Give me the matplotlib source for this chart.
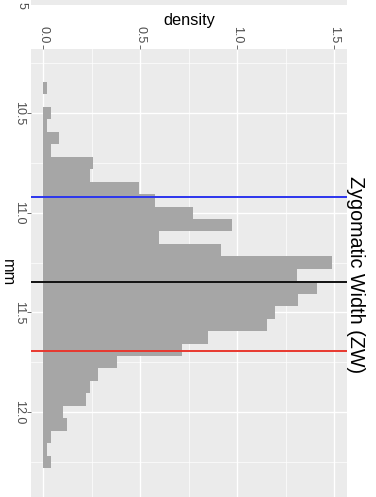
import matplotlib
matplotlib.use("Agg")
import matplotlib.pyplot as plt
from matplotlib.patches import Rectangle

plt.rcParams['font.family'] = ['Liberation Sans', 'DejaVu Sans']

# histogram bins (centres, mm) and densities
bin_centers = [10.375, 10.4375, 10.5, 10.5625, 10.625, 10.6875, 10.75, 10.8125,
               10.875, 10.9375, 11.0, 11.0625, 11.125, 11.1875, 11.25, 11.3125,
               11.375, 11.4375, 11.5, 11.5625, 11.625, 11.6875, 11.75, 11.8125,
               11.875, 11.9375, 12.0, 12.0625, 12.125, 12.1875, 12.25]
densities = [0.021, 0.0, 0.042, 0.021, 0.081, 0.042, 0.258, 0.239,
             0.495, 0.576, 0.773, 0.974, 0.598, 0.914, 1.487, 1.306,
             1.409, 1.315, 1.194, 1.152, 0.851, 0.713, 0.378, 0.284,
             0.241, 0.218, 0.103, 0.121, 0.042, 0.021, 0.042]
bin_width = 0.0625

# reference lines (mm)
line_values = [10.921, 11.345, 11.696]
line_colors = ['#2b35ee', '#111111', '#e8382e']

density_ticks = [0.0, 0.5, 1.0, 1.5]
density_labels = ['0.0', '0.5', '1.0', '1.5']
mm_ticks = [10.5, 11.0, 11.5, 12.0]
mm_labels = ['10.5', '11.0', '11.5', '12.0']

W, H = 376, 497
fig = plt.figure(figsize=(W / 100, H / 100), dpi=100)
fig.patch.set_facecolor('white')

# fragment of the neighbouring panel at the very top
fig.patches.append(Rectangle((31 / W, 1 - 5 / H), 316 / W, 5 / H,
                             transform=fig.transFigure, facecolor='#EBEBEB',
                             edgecolor='none'))
fig.text(22 / W, 1 - 8.5 / H, '5', rotation=-90, ha='center', va='bottom',
         fontsize=9, color='#4D4D4D')

ax = fig.add_axes([31 / W, 0.0, 316 / W, (497 - 49.3) / H])
ax.set_facecolor('#EBEBEB')

ax.barh(bin_centers, densities, height=bin_width, color='#a6a6a6',
        edgecolor='none', zorder=2)
for v, c in zip(line_values, line_colors):
    ax.axhline(v, color=c, lw=1.4, zorder=3)

ax.set_xlim(-0.0634, 1.565)
ax.set_ylim(12.426, 10.18)

ax.set_xticks(density_ticks)
ax.set_xticklabels(density_labels)
ax.set_xticks([0.25, 0.75, 1.25], minor=True)
ax.set_yticks(mm_ticks)
ax.set_yticklabels(mm_labels)
ax.set_yticks([10.25, 10.75, 11.25, 11.75, 12.25], minor=True)

ax.xaxis.tick_top()
ax.grid(which='major', color='white', lw=1.0, zorder=0)
ax.grid(which='minor', color='white', lw=0.5, zorder=0)
ax.set_axisbelow(True)
for s in ax.spines.values():
    s.set_visible(False)

ax.tick_params(axis='both', which='major', length=3, width=0.6,
               color='#555555', labelcolor='#4D4D4D', labelsize=9, pad=1.5)
ax.tick_params(axis='both', which='minor', length=0)
for lab in ax.get_xticklabels():
    lab.set_rotation(-90)
    lab.set_ha('center')
    lab.set_va('bottom')
for lab in ax.get_yticklabels():
    lab.set_rotation(-90)
    lab.set_ha('right')
    lab.set_va('center')

fig.text(189 / W, 1 - 20 / H, 'density', ha='center', va='center',
         fontsize=11.8, color='black')
fig.text(7 / W, 1 - 273 / H, 'mm', rotation=-90, ha='center', va='center',
         fontsize=11.8, color='black')
fig.text(355 / W, 1 - 275 / H, 'Zygomatic Width (ZW)', rotation=-90,
         ha='center', va='center', fontsize=14.2, color='black')

fig.savefig('out.png', dpi=100)
